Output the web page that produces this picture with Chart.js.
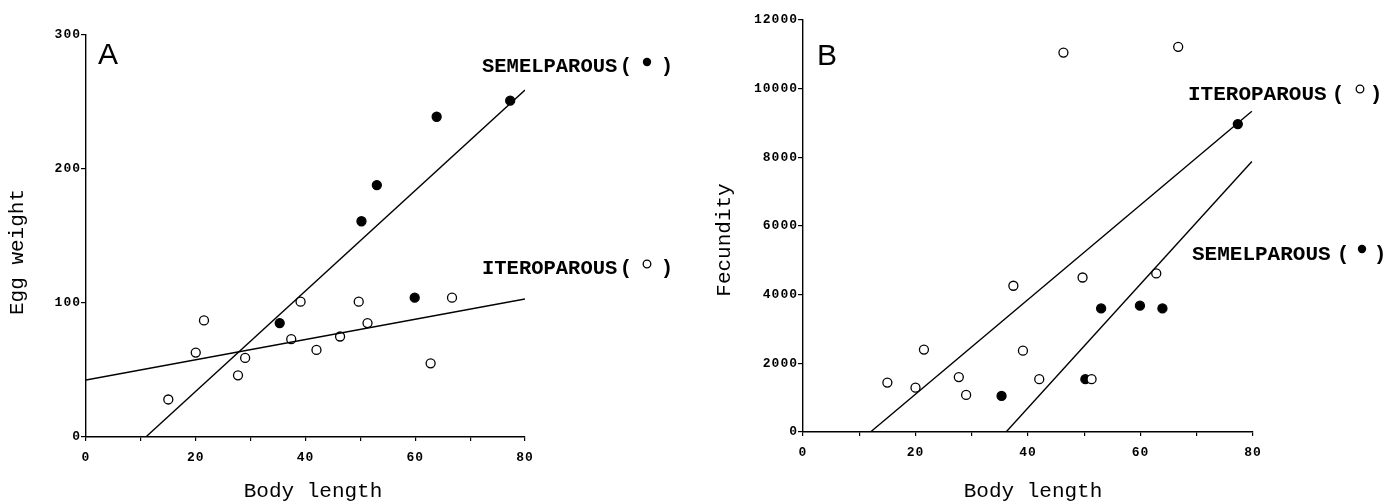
<!DOCTYPE html>
<html>
<head>
<meta charset="utf-8">
<script src="https://cdn.jsdelivr.net/npm/chart.js@4.4.1/dist/chart.umd.min.js"></script>
<style>
    body { margin: 0; background: #fff; width: 1400px; height: 501px; overflow: hidden; position: relative; }
    canvas { position: absolute; top: 0; }
    #chartA { left: 0; }
    #chartB { left: 700px; }
</style>
</head>
<body>
<canvas id="chartA" width="700" height="501"></canvas>
<canvas id="chartB" width="700" height="501"></canvas>
<script>
// Datos
const largoItero = [15, 20, 21.5, 27.7, 29, 37.4, 39.1, 42, 46.3, 49.7, 51.3, 62.8, 66.7];
const largoSemel = [35.3, 50.2, 53, 59.9, 63.9, 77.3];

// Panel A: peso del huevo
const pesoItero = [28, 63, 87, 46, 59, 73, 101, 65, 75, 101, 85, 55, 104];
const pesoSemel = [85, 161, 188, 104, 239, 251];

// Panel B: fecundidad
const fecItero = [1440, 1290, 2400, 1600, 1080, 4260, 2370, 1540, 11050, 4500, 1540, 4620, 11220];
const fecSemel = [1050, 1540, 3600, 3680, 3600, 8970];

// Rectas de regresion (extremos)
const rectaSemelA_x = [10.9, 80];
const rectaSemelA_y = [0, 259];
const rectaIteroA_x = [0, 80];
const rectaIteroA_y = [42.5, 103];
const rectaIteroB_x = [12, 79.8];
const rectaIteroB_y = [0, 9340];
const rectaSemelB_x = [36.1, 79.8];
const rectaSemelB_y = [0, 7880];

// Ticks
const ticksX = [0, 20, 40, 60, 80];
const ticksA = [0, 100, 200, 300];
const ticksB = [0, 2000, 4000, 6000, 8000, 10000, 12000];

const pares = (xs, ys) => xs.map((x, i) => ({ x: x, y: ys[i] }));

const mono = '"Liberation Mono", "DejaVu Sans Mono", monospace';
const fuenteTicks = { family: mono, size: 13, weight: 'bold' };

function puntos(data, relleno) {
    return {
        data: data,
        showLine: false,
        pointRadius: 4.5,
        pointBorderWidth: 1.3,
        pointBorderColor: "#000",
        pointBackgroundColor: relleno ? "#000" : "#fff"
    };
}

function recta(data) {
    return {
        data: data,
        showLine: true,
        pointRadius: 0,
        borderColor: "#000",
        borderWidth: 1.4,
        fill: false
    };
}

function ejes(ticksY, anchoY, altoX) {
    return {
        x: {
            type: "linear",
            min: 0, max: 80,
            afterFit: (s) => { s.height = altoX; },
            ticks: {
                stepSize: 10,
                autoSkip: false,
                maxRotation: 0,
                color: "#000",
                padding: 9,
                font: fuenteTicks,
                callback: (v) => ticksX.includes(v) ? String(v) : ""
            },
            grid: { display: true, drawOnChartArea: false, drawTicks: true, tickLength: 4, color: "#000", lineWidth: 1.2 },
            border: { display: true, color: "#000", width: 1.4 }
        },
        y: {
            type: "linear",
            min: 0, max: ticksY[ticksY.length - 1],
            afterFit: (s) => { s.width = anchoY; },
            afterBuildTicks: (s) => { s.ticks = ticksY.map((v) => ({ value: v })); },
            ticks: {
                autoSkip: false,
                color: "#000",
                padding: 0,
                font: fuenteTicks,
                callback: (v) => String(v)
            },
            grid: { display: true, drawOnChartArea: false, drawTicks: true, tickLength: 5, color: "#000", lineWidth: 1.2 },
            border: { display: true, color: "#000", width: 1.4 }
        }
    };
}

// textos del panel: letra, titulos de ejes y etiquetas de series
function textosPanel(cfg) {
    return {
        id: "textos" + cfg.letra,
        beforeDraw(chart) {
            chart.ctx.letterSpacing = "1px";
        },
        afterDraw(chart) {
            const ctx = chart.ctx;
            ctx.save();
            ctx.letterSpacing = "0px";
            ctx.fillStyle = "#000";
            ctx.strokeStyle = "#000";

            ctx.font = '30px "Liberation Sans", Arial, sans-serif';
            ctx.textAlign = "left";
            ctx.textBaseline = "alphabetic";
            ctx.fillText(cfg.letra, cfg.letraX, cfg.letraY);

            // titulo eje x
            ctx.font = "21px " + mono;
            ctx.textAlign = "center";
            ctx.fillText("Body length", cfg.tituloX, 497);

            // titulo eje y
            ctx.save();
            ctx.translate(cfg.tituloYx, cfg.tituloYy);
            ctx.rotate(-Math.PI / 2);
            ctx.fillText(cfg.tituloY, 0, 0);
            ctx.restore();

            // etiquetas de series
            cfg.series.forEach((s) => {
                ctx.font = "bold " + s.size + "px " + mono;
                ctx.textAlign = "left";
                ctx.fillText(s.texto, s.x, s.y);
                ctx.textAlign = "center";
                ctx.fillText("(", s.abre, s.y);
                ctx.fillText(")", s.cierra, s.y);
                ctx.beginPath();
                ctx.arc(s.mx, s.my, s.relleno ? 4.2 : 3.8, 0, Math.PI * 2);
                if (s.relleno) {
                    ctx.fill();
                } else {
                    ctx.lineWidth = 1.3;
                    ctx.stroke();
                }
            });
            ctx.restore();
        }
    };
}

// ==============================
// PANEL A
// ==============================

new Chart(document.getElementById("chartA"), {
    type: "scatter",
    data: {
        datasets: [
            recta(pares(rectaSemelA_x, rectaSemelA_y)),
            recta(pares(rectaIteroA_x, rectaIteroA_y)),
            puntos(pares(largoItero, pesoItero), false),
            puntos(pares(largoSemel, pesoSemel), true)
        ]
    },
    options: {
        responsive: false,
        animation: false,
        devicePixelRatio: 1,
        layout: { padding: { left: 0, top: 35, right: 175, bottom: 0 } },
        plugins: { legend: { display: false }, tooltip: { enabled: false } },
        scales: ejes(ticksA, 86, 64)
    },
    plugins: [textosPanel({
        letra: "A", letraX: 98, letraY: 64,
        tituloX: 313, tituloY: "Egg weight", tituloYx: 23, tituloYy: 252,
        series: [
            { texto: "SEMELPAROUS", size: 20.5, x: 482, y: 72, abre: 626, cierra: 667, mx: 647, my: 62, relleno: true },
            { texto: "ITEROPAROUS", size: 20.5, x: 482, y: 274, abre: 626, cierra: 667, mx: 647, my: 264, relleno: false }
        ]
    })]
});

// ==============================
// PANEL B
// ==============================

new Chart(document.getElementById("chartB"), {
    type: "scatter",
    data: {
        datasets: [
            recta(pares(rectaIteroB_x, rectaIteroB_y)),
            recta(pares(rectaSemelB_x, rectaSemelB_y)),
            puntos(pares(largoItero, fecItero), false),
            puntos(pares(largoSemel, fecSemel), true)
        ]
    },
    options: {
        responsive: false,
        animation: false,
        devicePixelRatio: 1,
        layout: { padding: { left: 0, top: 20, right: 147, bottom: 0 } },
        plugins: { legend: { display: false }, tooltip: { enabled: false } },
        scales: ejes(ticksB, 103, 69)
    },
    plugins: [textosPanel({
        letra: "B", letraX: 117, letraY: 65,
        tituloX: 333, tituloY: "Fecundity", tituloYx: 30, tituloYy: 240,
        series: [
            { texto: "ITEROPAROUS", size: 21, x: 488, y: 100, abre: 638, cierra: 676, mx: 660, my: 89, relleno: false },
            { texto: "SEMELPAROUS", size: 21, x: 492, y: 260, abre: 643, cierra: 680, mx: 662, my: 249, relleno: true }
        ]
    })]
});
</script>
</body>
</html>
